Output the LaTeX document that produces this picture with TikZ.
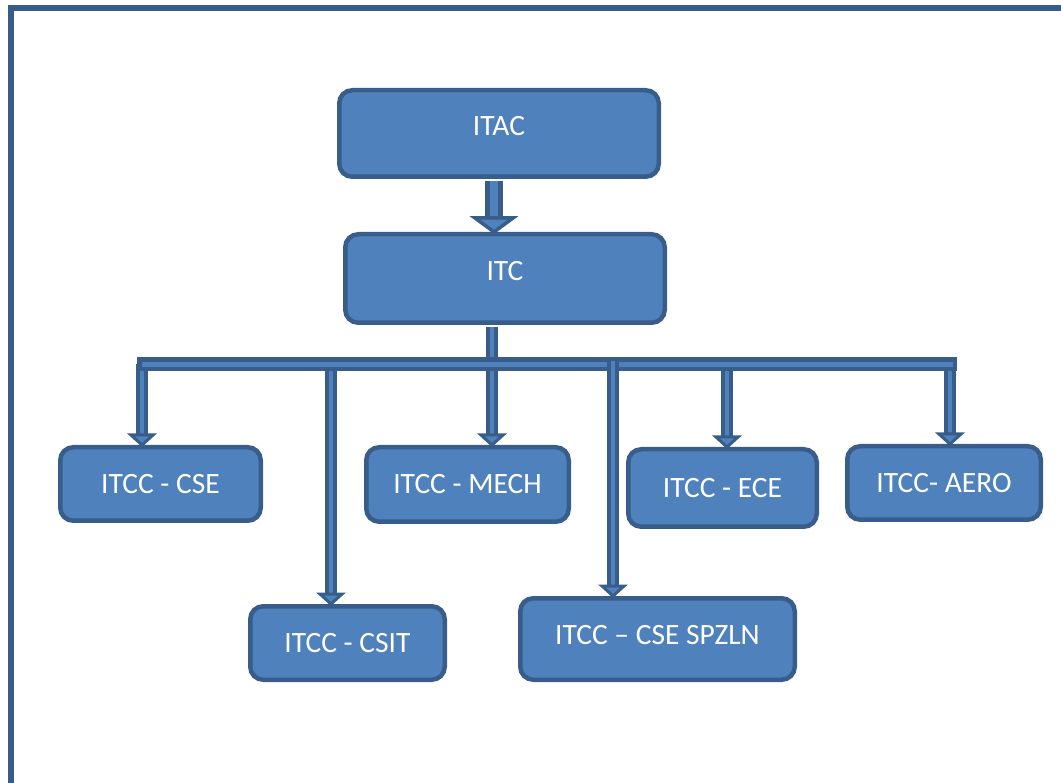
\documentclass[tikz,border=0pt]{standalone}
\usepackage{fontspec}
\setmainfont{Carlito}
\usetikzlibrary{calc}
\definecolor{boxfill}{HTML}{4F81BD}
\definecolor{boxedge}{HTML}{385D8A}

\begin{document}
\begin{tikzpicture}[x=1pt, y=-1pt, every node/.style={font=\fontsize{29.5}{34}\selectfont, text=white},
  unit/.style={draw=boxedge, fill=boxfill, line width=4.5pt, rounded corners=13pt, inner sep=0pt},
  pipe/.style={draw=boxedge, line width=3.5pt, double=boxfill, double distance=4.5pt},
  buspipe/.style={pipe, line width=4.5pt, double distance=5pt, line cap=rect},
  bigpipe/.style={pipe, line width=5pt, double distance=8pt},
  head/.style={draw=boxedge, fill=boxfill, line width=3pt, line join=miter}]
  \useasboundingbox (0,0) rectangle (1061,783);
  % page frame (only top and left edges show)
  \draw[boxedge, line width=6pt] (11,783) -- (11,8) -- (1061,8);

  % committees
  \node[unit, minimum width=319.5pt, minimum height=86.5pt, text depth=16pt] (itac) at (499,133.5) {ITAC};
  \node[unit, minimum width=319.5pt, minimum height=88.5pt, text depth=15pt] (itc) at (505,278.5) {ITC};
  \node[unit, minimum width=200.5pt, minimum height=73.5pt] (cse) at (160.5,484) {ITCC - CSE};
  \node[unit, minimum width=202.5pt, minimum height=74.5pt] (mech) at (467.5,484.5) {ITCC - MECH};
  \node[unit, minimum width=188.5pt, minimum height=77.5pt] (ece) at (722.5,488) {ITCC - ECE};
  \node[unit, minimum width=193.5pt, minimum height=73.5pt] (aero) at (944,483) {ITCC- AERO};
  \node[unit, minimum width=194.5pt, minimum height=73.5pt] (csit) at (347.5,643) {ITCC - CSIT};
  \node[unit, minimum width=274.5pt, minimum height=81.5pt, text depth=8pt] (spzln) at (657.5,639) {ITCC – CSE SPZLN};

  % drop points on the bus
  \coordinate (dcse) at (142,364.5);
  \coordinate (dcsit) at (331,364.5);
  \coordinate (dmech) at (492,364.5);
  \coordinate (dspzln) at (613,364.5);
  \coordinate (dece) at (727,364.5);
  \coordinate (daero) at (950,364.5);

  % ITAC -> ITC
  \draw[bigpipe] ($(itac.south)+(-5,2.25)$) -- ($(itac.south |- itc.north)+(-5,-14)$);
  \filldraw[head, line width=3.5pt] ($(itac.south |- itc.north)+(-24,-14)$) -- ($(itac.south |- itc.north)+(-5,0)$) -- ($(itac.south |- itc.north)+(14,-14)$) -- cycle;

  % ITC -> MECH, straight through the bus
  \draw[pipe] ($(dmech |- itc.south)+(0,2.25)$) -- ($(dmech |- mech.north)+(0,-10)$);
  \filldraw[head] ($(dmech |- mech.north)+(-11,-10)$) -- (dmech |- mech.north) -- ($(dmech |- mech.north)+(11,-10)$) -- cycle;

  % drops under the bus
  \draw[pipe] (dcse) -- ($(dcse |- cse.north)+(0,-10)$);
  \filldraw[head] ($(dcse |- cse.north)+(-11,-10)$) -- (dcse |- cse.north) -- ($(dcse |- cse.north)+(11,-10)$) -- cycle;
  \draw[pipe] (dcsit) -- ($(dcsit |- csit.north)+(0,-10)$);
  \filldraw[head] ($(dcsit |- csit.north)+(-11,-10)$) -- (dcsit |- csit.north) -- ($(dcsit |- csit.north)+(11,-10)$) -- cycle;
  \draw[pipe] (dece) -- ($(dece |- ece.north)+(0,-10)$);
  \filldraw[head] ($(dece |- ece.north)+(-11,-10)$) -- (dece |- ece.north) -- ($(dece |- ece.north)+(11,-10)$) -- cycle;
  \draw[pipe] (daero) -- ($(daero |- aero.north)+(0,-10)$);
  \filldraw[head] ($(daero |- aero.north)+(-11,-10)$) -- (daero |- aero.north) -- ($(daero |- aero.north)+(11,-10)$) -- cycle;

  % bus
  \draw[buspipe] ($(dcse)+(2,0)$) -- (daero);

  % SPZLN drop lies over the bus
  \draw[pipe] ($(dspzln)+(0,-3)$) -- ($(dspzln |- spzln.north)+(0,-10)$);
  \filldraw[head] ($(dspzln |- spzln.north)+(-11,-10)$) -- (dspzln |- spzln.north) -- ($(dspzln |- spzln.north)+(11,-10)$) -- cycle;
\end{tikzpicture}
\end{document}
